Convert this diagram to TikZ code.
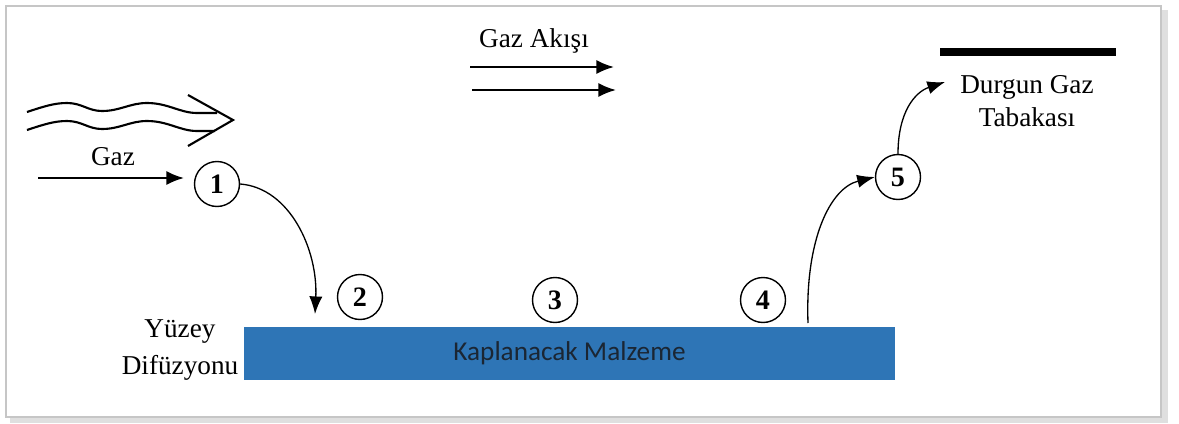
\documentclass[tikz,border=0pt]{standalone}
\usepackage{fontspec}
\setmainfont{Liberation Serif}
\newfontfamily\calib{Carlito}
\usetikzlibrary{arrows.meta}
\definecolor{matblue}{HTML}{2E75B6}
\definecolor{mattext}{HTML}{1B2633}
\tikzset{
  lbl/.style={font=\fontsize{15.5}{19}\selectfont, align=center, inner sep=0pt},
  num/.style={circle, draw, line width=0.8pt, minimum size=0.9cm, inner sep=0pt, font=\fontsize{16}{18}\selectfont\bfseries},
  arr/.style={line width=1.2pt, -{Latex[length=10pt,width=8pt]}},
  carr/.style={line width=0.75pt, -{Latex[length=10pt,width=7.5pt]}},
}
\begin{document}
\begin{tikzpicture}[x=0.02cm,y=-0.02cm]
\useasboundingbox (0,0) rectangle (1179,423);
% frame with shadow
\draw[gray!25, line width=3pt] (10,420) -- (1165,420) -- (1165,10);
\draw[gray!45, line width=0.8pt] (6,6) rectangle (1161,417);
% wavy double arrow
\draw[line width=1.2pt, line join=round]
  (27,112) .. controls (45,106) and (55,103) .. (67,103)
  .. controls (82,103) and (88,111) .. (102,111)
  .. controls (120,111) and (130,103) .. (147,103)
  .. controls (168,103) and (180,113) .. (197,113) -- (217,113);
\draw[line width=1.2pt, line join=round]
  (27,130) .. controls (45,124) and (55,121) .. (67,121)
  .. controls (82,121) and (88,129) .. (102,129)
  .. controls (120,129) and (130,121) .. (147,121)
  .. controls (168,121) and (180,131) .. (197,131) -- (215,131);
\draw[line width=1.2pt, line join=miter] (188,95) -- (233,120) -- (188,146);
% nodes
\node[lbl] (gaz) at (113,157) {Gaz};
\coordinate (gazs) at (38,178);
\coordinate (gaze) at (184,178);
\node[num] (n1) at (217,184) {1};
\node[num] (n2) at (360,297) {2};
\node[num] (n3) at (555,300) {3};
\node[num] (n4) at (763,300) {4};
\node[num] (n5) at (898,177) {5};
\node[lbl] (akis) at (534,41) {Gaz Akışı};
\coordinate (a1s) at (470,67); \coordinate (a1e) at (614,67);
\coordinate (a2s) at (472,90); \coordinate (a2e) at (616,90);
\node[fill=black, minimum width=176*0.02cm, minimum height=0.16cm, inner sep=0pt] (bar) at (1028,52) {};
\node[lbl] (durgun) at (1027,101) {Durgun Gaz\\Tabakası};
\node[lbl, font=\fontsize{15.5}{21}\selectfont] (yuzey) at (180,350) {Yüzey\\Difüzyonu};
\node[fill=matblue, minimum width=651*0.02cm, minimum height=53*0.02cm, inner sep=0pt,
      font=\calib\fontsize{15.5}{18}\selectfont, text=mattext] (mat) at (569.5,353.5) {Kaplanacak Malzeme};
\coordinate (land) at (315,314);
\coordinate (rise) at (808,323);
% arrows
\draw[arr] (gazs) -- (gaze);
\draw[arr] (a1s) -- (a1e);
\draw[arr] (a2s) -- (a2e);
\draw[carr] (n1.east) .. controls (290,188) and (318,250) .. (land);
\draw[carr] (rise) .. controls (805,240) and (830,188) .. (n5.west);
\draw[carr] (n5.north) .. controls (898,112) and (915,92) .. (945,82);
\end{tikzpicture}
\end{document}
